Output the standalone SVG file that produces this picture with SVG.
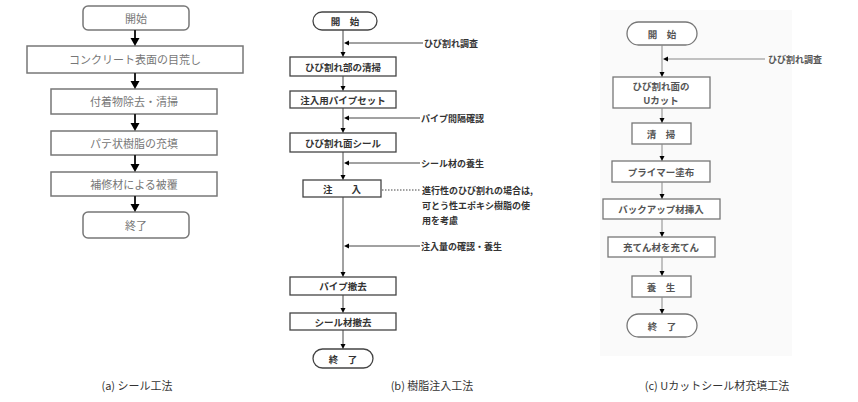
<svg xmlns="http://www.w3.org/2000/svg" width="858" height="402" viewBox="0 0 858 402">
<style>
text{font-family:"Noto Sans CJK JP","Noto Sans",sans-serif;text-anchor:middle;dominant-baseline:central}
.a rect{fill:#fff;stroke:#777;stroke-width:1.5}
.a text{font-size:11px;fill:#777}
.b rect{fill:#fff;stroke:#444;stroke-width:1.3}
.b text{font-size:9.5px;fill:#333;font-weight:bold}
.c rect{fill:#fff;stroke:#777;stroke-width:1.3}
.c text{font-size:9.5px;fill:#555;font-weight:bold}
.n{font-size:9px;fill:#333;text-anchor:start;font-weight:bold}
.cap{font-size:11px;fill:#333}
.la line{stroke:#222;stroke-width:2}
.la polygon{fill:#222}
.lb line{stroke:#444;stroke-width:1}
.lb polygon{fill:#444}
.lc line{stroke:#888;stroke-width:1}
.lc polygon{fill:#666}
</style>
<defs>
<polygon id="ha" points="-4.5,-8 4.5,-8 0,0"/>
<polygon id="hb" points="-2.5,-5 2.5,-5 0,0"/>
<polygon id="hl" points="5,-2.5 5,2.5 0,0"/>
</defs>
<rect x="600" y="10" width="192" height="346" fill="#fafafa"/>
<g class="a">
<g id="a1"><rect x="83" y="6" width="106" height="24" rx="5"/><text x="136" y="18">開始</text></g>
<g id="a2"><rect x="27" y="46" width="216" height="27"/><text x="135" y="59">コンクリート表面の目荒し</text></g>
<g id="a3"><rect x="51" y="89" width="166" height="25"/><text x="134" y="101">付着物除去・清掃</text></g>
<g id="a4"><rect x="51" y="131" width="166" height="24"/><text x="134" y="143">パテ状樹脂の充填</text></g>
<g id="a5"><rect x="51" y="172" width="166" height="24"/><text x="134" y="184">補修材による被覆</text></g>
<g id="a6"><rect x="83" y="212" width="106" height="26" rx="5"/><text x="136" y="225">終了</text></g>
</g>
<g class="b">
<g id="b1"><rect x="313" y="12" width="64" height="18" rx="9"/><text x="345" y="21">開　始</text></g>
<g id="b2"><rect x="290" y="57" width="106" height="19"/><text x="343" y="66.5">ひび割れ部の清掃</text></g>
<g id="b3"><rect x="290" y="91" width="106" height="17"/><text x="343" y="99.5">注入用パイプセット</text></g>
<g id="b4"><rect x="290" y="133" width="106" height="19"/><text x="343" y="142.5">ひび割れ面シール</text></g>
<g id="b5"><rect x="303" y="180" width="78" height="17"/><text x="342" y="188.5">注　　入</text></g>
<g id="b6"><rect x="290" y="277" width="106" height="18"/><text x="343" y="286">パイプ撤去</text></g>
<g id="b7"><rect x="290" y="313" width="106" height="17"/><text x="343" y="321.5">シール材撤去</text></g>
<g id="b8"><rect x="313" y="349" width="60" height="19" rx="9.5"/><text x="343" y="358.5">終　了</text></g>
</g>
<g class="c">
<g id="c1"><rect x="627" y="22" width="70" height="23" rx="11.5"/><text x="662" y="33.5">開　始</text></g>
<g id="c2"><rect x="613" y="77" width="97" height="31"/><text x="661" y="86">ひび割れ面の</text><text x="661" y="100">Uカット</text></g>
<g id="c3"><rect x="632" y="123" width="59" height="21"/><text x="661" y="133.5">清　掃</text></g>
<g id="c4"><rect x="612" y="161" width="98" height="21"/><text x="661" y="171.5">プライマー塗布</text></g>
<g id="c5"><rect x="603" y="199" width="117" height="20"/><text x="661" y="209">バックアップ材挿入</text></g>
<g id="c6"><rect x="608" y="237" width="107" height="20"/><text x="661" y="247">充てん材を充てん</text></g>
<g id="c7"><rect x="632" y="276" width="59" height="21"/><text x="661" y="286.5">養　生</text></g>
<g id="c8"><rect x="627" y="314" width="70" height="23" rx="11.5"/><text x="662" y="325.5">終　了</text></g>
</g>
<g id="connectors">
<g class="la">
<line x1="135" y1="30" x2="135" y2="40"/><use href="#ha" x="135" y="46"/>
<line x1="135" y1="73" x2="135" y2="83"/><use href="#ha" x="135" y="89"/>
<line x1="135" y1="114" x2="135" y2="125"/><use href="#ha" x="135" y="131"/>
<line x1="135" y1="155" x2="135" y2="166"/><use href="#ha" x="135" y="172"/>
<line x1="135" y1="196" x2="135" y2="206"/><use href="#ha" x="135" y="212"/>
</g>
<g class="lb">
<line x1="343" y1="30" x2="343" y2="53"/><use href="#hb" x="343" y="57"/>
<line x1="343" y1="76" x2="343" y2="87"/><use href="#hb" x="343" y="91"/>
<line x1="343" y1="108" x2="343" y2="129"/><use href="#hb" x="343" y="133"/>
<line x1="343" y1="152" x2="343" y2="176"/><use href="#hb" x="343" y="180"/>
<line x1="343" y1="197" x2="343" y2="273"/><use href="#hb" x="343" y="277"/>
<line x1="343" y1="295" x2="343" y2="309"/><use href="#hb" x="343" y="313"/>
<line x1="343" y1="330" x2="343" y2="345"/><use href="#hb" x="343" y="349"/>
<line x1="423" y1="43" x2="348" y2="43"/><use href="#hl" x="344" y="43"/>
<line x1="420" y1="118" x2="348" y2="118"/><use href="#hl" x="344" y="118"/>
<line x1="420" y1="163" x2="348" y2="163"/><use href="#hl" x="344" y="163"/>
<line x1="420" y1="246" x2="348" y2="246"/><use href="#hl" x="344" y="246"/>
<line x1="382" y1="190" x2="420" y2="190" stroke-dasharray="1.5,1.5"/>
</g>
<g class="lc">
<line x1="662" y1="45" x2="662" y2="73"/><use href="#hb" x="662" y="77"/>
<line x1="662" y1="108" x2="662" y2="119"/><use href="#hb" x="662" y="123"/>
<line x1="662" y1="144" x2="662" y2="157"/><use href="#hb" x="662" y="161"/>
<line x1="662" y1="182" x2="662" y2="195"/><use href="#hb" x="662" y="199"/>
<line x1="662" y1="219" x2="662" y2="233"/><use href="#hb" x="662" y="237"/>
<line x1="662" y1="257" x2="662" y2="272"/><use href="#hb" x="662" y="276"/>
<line x1="662" y1="297" x2="662" y2="310"/><use href="#hb" x="662" y="314"/>
<line x1="765" y1="59" x2="667" y2="59"/><use href="#hl" x="663" y="59"/>
</g>
</g>
<text class="n" x="424" y="43">ひび割れ調査</text>
<text class="n" x="421" y="118">パイプ間隔確認</text>
<text class="n" x="421" y="163">シール材の養生</text>
<text class="n" x="422" y="190">進行性のひび割れの場合は,</text>
<text class="n" x="422" y="205">可とう性エポキシ樹脂の使</text>
<text class="n" x="422" y="220">用を考慮</text>
<text class="n" x="421" y="246">注入量の確認・養生</text>
<text class="n" x="768" y="59" style="fill:#555">ひび割れ調査</text>
<text class="cap" x="137" y="385">(a)  シール工法</text>
<text class="cap" x="432" y="385">(b)  樹脂注入工法</text>
<text class="cap" x="717" y="385">(c)  Uカットシール材充填工法</text>
</svg>
